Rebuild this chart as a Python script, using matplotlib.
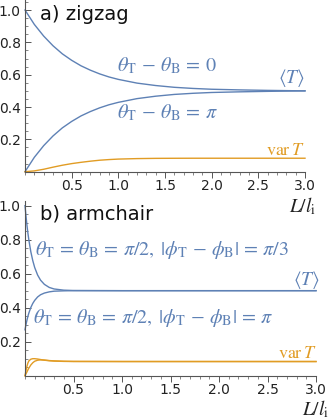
import numpy as np
import matplotlib
matplotlib.use('Agg')
import matplotlib.pyplot as plt
from matplotlib.ticker import MultipleLocator

plt.rcParams['mathtext.fontset'] = 'stix'

blue = '#5e81b5'
orange = '#e19c24'

# a) zigzag, values
L_zz = [0, 0.1, 0.2, 0.3, 0.4, 0.5, 0.6, 0.7, 0.8, 0.9, 1.0, 1.2, 1.4, 1.6, 1.8, 2.0, 2.3, 2.6, 3.0]
T_zz_same = [1.0, 0.911, 0.839, 0.779, 0.729, 0.689, 0.655, 0.628, 0.605, 0.586, 0.571,
             0.548, 0.533, 0.522, 0.515, 0.510, 0.506, 0.503, 0.5]
T_zz_pi = [0.0, 0.089, 0.161, 0.221, 0.271, 0.311, 0.345, 0.372, 0.395, 0.414, 0.429,
           0.452, 0.467, 0.478, 0.485, 0.490, 0.494, 0.497, 0.5]
var_zz = [0.0, 0.005, 0.015, 0.028, 0.040, 0.050, 0.058, 0.065, 0.071, 0.075, 0.078,
          0.081, 0.0825, 0.083, 0.0833, 0.0833, 0.0833, 0.0833, 0.0833]

# b) armchair
L_ac = [0, 0.01, 0.02, 0.03, 0.04, 0.06, 0.08, 0.1, 0.13, 0.16, 0.2, 0.25, 0.3, 0.4, 0.5, 1.0, 2.0, 3.0]
T_ac_third = [1.0, 0.94, 0.885, 0.838, 0.797, 0.729, 0.677, 0.636, 0.592, 0.562, 0.537,
              0.519, 0.510, 0.503, 0.501, 0.5, 0.5, 0.5]
T_ac_pi = [0.27, 0.30, 0.326, 0.349, 0.369, 0.401, 0.425, 0.443, 0.463, 0.476, 0.486,
           0.493, 0.497, 0.499, 0.5, 0.5, 0.5, 0.5]
var_ac_fast = [0.0, 0.03, 0.055, 0.075, 0.087, 0.097, 0.100, 0.100, 0.098, 0.095, 0.091,
               0.088, 0.086, 0.084, 0.0835, 0.0833, 0.0833, 0.0833]
var_ac_slow = [0.0, 0.011, 0.022, 0.034, 0.045, 0.063, 0.076, 0.085, 0.091, 0.093, 0.092,
               0.089, 0.087, 0.085, 0.084, 0.0833, 0.0833, 0.0833]

fig = plt.figure(figsize=(3.32, 4.2), dpi=100)
ax1 = fig.add_axes([25/332, 0.5912, 280/332, 0.408])
ax2 = fig.add_axes([25/332, 0.1055, 291/332, 0.417])


def style(ax, ytop):
    ax.set_xlim(0, 3.0)
    ax.set_ylim(0, ytop)
    for s in ['top', 'right']:
        ax.spines[s].set_visible(False)
    for s in ['left', 'bottom']:
        ax.spines[s].set_color('#555555')
        ax.spines[s].set_linewidth(0.8)
    ax.xaxis.set_minor_locator(MultipleLocator(0.1))
    ax.yaxis.set_minor_locator(MultipleLocator(0.05))
    ax.set_xticks([0.5, 1.0, 1.5, 2.0, 2.5, 3.0])
    ax.set_xticklabels(['0.5', '1.0', '1.5', '2.0', '2.5', '3.0'])
    ax.set_yticks([0.2, 0.4, 0.6, 0.8, 1.0])
    ax.set_yticklabels(['0.2', '0.4', '0.6', '0.8', '1.0'])
    ax.tick_params(axis='x', which='both', direction='out', colors='#555555',
                   labelcolor='#222222', labelsize=10, pad=1.5)
    ax.tick_params(axis='y', which='both', direction='in', colors='#555555',
                   labelcolor='#222222', labelsize=10, pad=3)
    ax.tick_params(which='major', length=4, width=0.7)
    ax.tick_params(which='minor', length=2, width=0.5)
    ax.patch.set_alpha(0)


style(ax1, 1.06)
style(ax2, 1.03)

ax1.plot(L_zz, T_zz_same, color=blue, lw=1.0, clip_on=False)
ax1.plot(L_zz, T_zz_pi, color=blue, lw=1.0, clip_on=False)
ax1.plot(L_zz, var_zz, color=orange, lw=1.0, clip_on=False)

ax2.plot(L_ac, T_ac_third, color=blue, lw=1.0, clip_on=False)
ax2.plot(L_ac, T_ac_pi, color=blue, lw=1.0, clip_on=False)
ax2.plot(L_ac, var_ac_fast, color=orange, lw=1.0, clip_on=False)
ax2.plot(L_ac, var_ac_slow, color=orange, lw=1.0, clip_on=False)

ax1.text(0.16, 0.97, 'a) zigzag', fontsize=14, ha='left', va='center', color='#111111')
ax1.text(0.986, 0.654, r'$\theta_{\mathrm{T}}\,-\,\theta_{\mathrm{B}}\,=\,0$', fontsize=14.5,
         color=blue, ha='left', va='center')
ax1.text(0.986, 0.363, r'$\theta_{\mathrm{T}}\,-\,\theta_{\mathrm{B}}\,=\,\pi$', fontsize=14.5,
         color=blue, ha='left', va='center')
ax1.text(3.0, 0.58, r'$\langle T\rangle$', fontsize=14, color=blue, ha='right', va='center')
ax1.text(3.0, 0.134, r'$\mathrm{var}\,T$', fontsize=13, color=orange, ha='right', va='center')

ax2.text(0.103, 0.739,
         r'$\theta_{\mathrm{T}}\,=\,\theta_{\mathrm{B}}\,=\,\pi/2,\;|\phi_{\mathrm{T}}\,-\,\phi_{\mathrm{B}}|\,=\,\pi/3$',
         fontsize=14.5, color=blue, ha='left', va='center')
ax2.text(0.082, 0.339,
         r'$\theta_{\mathrm{T}}\,=\,\theta_{\mathrm{B}}\,=\,\pi/2,\;|\phi_{\mathrm{T}}\,-\,\phi_{\mathrm{B}}|\,=\,\pi$',
         fontsize=14.5, color=blue, ha='left', va='center')
ax2.text(0.155, 0.951, 'b) armchair', fontsize=14, ha='left', va='center', color='#111111')
ax2.text(3.04, 0.563, r'$\langle T\rangle$', fontsize=14, color=blue, ha='right', va='center')
ax2.text(3.01, 0.134, r'$\mathrm{var}\,T$', fontsize=13, color=orange, ha='right', va='center')

fig.text(316/332, 1 - 206/420, r'$L/l_{\mathrm{i}}$', fontsize=14, color='#222222', ha='right', va='center')
fig.text(329/332, 1 - 409/420, r'$L/l_{\mathrm{i}}$', fontsize=14, color='#222222', ha='right', va='center')

fig.savefig('out.png', dpi=100)
